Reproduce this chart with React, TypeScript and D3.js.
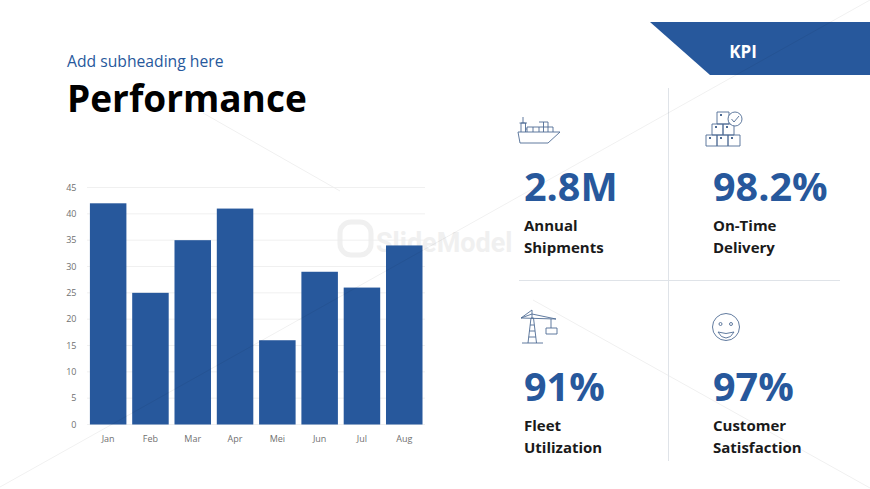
import { useEffect, useRef } from "react";
import * as d3 from "d3";

const months = ["Jan", "Feb", "Mar", "Apr", "Mei", "Jun", "Jul", "Aug"];
const values = [42, 25, 35, 41, 16, 29, 26, 34];
const yTicks = [0, 5, 10, 15, 20, 25, 30, 35, 40, 45];

const kpiValues = ["2.8M", "98.2%", "91%", "97%"];
const kpiLine1 = ["Annual", "On-Time", "Fleet", "Customer"];
const kpiLine2 = ["Shipments", "Delivery", "Utilization", "Satisfaction"];

const blue = "#27589c";
const iconColor = "#4f6c94";
const font = "'Open Sans', sans-serif";

export default function App() {
  const svgRef = useRef<SVGSVGElement>(null);

  useEffect(() => {
    if (!svgRef.current) return;
    const svg = d3.select(svgRef.current);
    svg.selectAll("*").remove();

    // Faint background lines from the slide template
    const bg = svg.append("g").attr("stroke", "#f0f0f0").attr("fill", "none");
    bg.append("path").attr("d", "M203 113L340 191");
    bg.append("path").attr("d", "M533 300L870 488");

    // Watermark
    svg.append("rect").attr("x", 340).attr("y", 222).attr("width", 31).attr("height", 33).attr("rx", 11)
      .attr("fill", "none").attr("stroke", "#f0f0f0").attr("stroke-width", 5);
    svg.append("text").attr("x", 376).attr("y", 252).text("SlideModel")
      .attr("font-family", "Roboto, sans-serif").attr("font-size", 27).attr("font-weight", 700).attr("fill", "#f0f0f0");

    // Heading
    svg.append("text").attr("x", 67).attr("y", 67).text("Add subheading here")
      .attr("font-family", font).attr("font-size", 15.7).attr("fill", blue);
    svg.append("text").attr("x", 67).attr("y", 112).text("Performance")
      .attr("font-family", font).attr("font-size", 37).attr("font-weight", 700).attr("fill", "#000");

    // KPI tab
    svg.append("path").attr("d", "M650 22H870V75H710Z").attr("fill", blue);
    svg.append("text").attr("x", 743).attr("y", 58).attr("text-anchor", "middle").text("KPI")
      .attr("font-family", font).attr("font-size", 17).attr("font-weight", 700).attr("fill", "#fff");

    // Bar chart
    const x = d3.scaleBand<string>().domain(months).range([87, 425.4]).paddingInner(0.137).paddingOuter(0.0685);
    const y = d3.scaleLinear().domain([0, 45]).range([424.5, 187.5]);

    const grid = svg.append("g");
    grid.selectAll("line").data(yTicks).enter().append("line")
      .attr("x1", 87).attr("x2", 425).attr("y1", (d) => y(d)).attr("y2", (d) => y(d))
      .attr("stroke", "#ececec").attr("stroke-width", 0.8);

    svg.append("g").selectAll("rect").data(values).enter().append("rect")
      .attr("x", (d, i) => x(months[i]) as number)
      .attr("y", (d) => y(d))
      .attr("width", x.bandwidth())
      .attr("height", (d) => y(0) - y(d))
      .attr("fill", blue);

    svg.append("g").selectAll("text").data(yTicks).enter().append("text")
      .attr("x", 76.5).attr("y", (d) => y(d)).attr("dy", "0.35em").attr("text-anchor", "end")
      .text((d) => d)
      .attr("font-family", font).attr("font-size", 9).attr("fill", "#707070");

    svg.append("g").selectAll("text").data(months).enter().append("text")
      .attr("x", (d) => (x(d) as number) + x.bandwidth() / 2).attr("y", 442).attr("text-anchor", "middle")
      .text((d) => d)
      .attr("font-family", font).attr("font-size", 9).attr("fill", "#707070");

    // KPI dividers
    svg.append("line").attr("x1", 668.5).attr("x2", 668.5).attr("y1", 88).attr("y2", 461).attr("stroke", "#dfe3e8");
    svg.append("line").attr("x1", 519).attr("x2", 840).attr("y1", 280.5).attr("y2", 280.5).attr("stroke", "#dfe3e8");

    // KPI blocks
    const colX = [524, 713];
    const rowY = [201, 401];
    kpiValues.forEach((v, i) => {
      const cx = colX[i % 2];
      const ry = rowY[Math.floor(i / 2)];
      svg.append("text").attr("x", cx).attr("y", ry).text(v)
        .attr("font-family", font).attr("font-size", 39.5).attr("font-weight", 700).attr("fill", blue);
      svg.append("text").attr("x", cx).attr("y", ry + 30).text(kpiLine1[i])
        .attr("font-family", font).attr("font-size", 15).attr("font-weight", 700).attr("fill", "#1a1a1a");
      svg.append("text").attr("x", cx).attr("y", ry + 52).text(kpiLine2[i])
        .attr("font-family", font).attr("font-size", 15).attr("font-weight", 700).attr("fill", "#1a1a1a");
    });

    // Icons
    const icons = svg.append("g").attr("fill", "none").attr("stroke", iconColor).attr("stroke-width", 0.9);
    // ship
    icons.append("path").attr("d", "M518 132H560L548 143H520Z M521 132V123H525.5V132 M519.5 123H527 M523 123V117 M525.5 129H527 M527 132V127H553V132 M533 127V132 M539 122H548V132 M539 127V132 M543.5 122V132");
    // boxes with check
    icons.append("path").attr("d", "M706 135H717V146H706Z M717 135H728V146H717Z M728 135H740V146H728Z M712 124H723V135H712Z M723 124H734V135H723Z M717 112H729V124H717Z");
    icons.append("path").attr("fill", iconColor).attr("stroke", "none")
      .attr("d", "M709 137h2v2h-2Z M720 137h2v2h-2Z M731 137h2v2h-2Z M715 126h2v2h-2Z M726 126h2v2h-2Z M720 114h2v2h-2Z");
    icons.append("circle").attr("cx", 735).attr("cy", 119).attr("r", 7).attr("fill", "#fff");
    icons.append("path").attr("d", "M731.5 119L734 122L739 116");
    // crane
    icons.append("path").attr("d", "M522 343H543 M528 343L531 318H533.5L536.5 343 M528.7 337H535.8 M529.4 331H535 M530.1 325H534.2 M521 318L532 314L556 319Z M532 310V318 M532 310L521 318 M551 319V328 M546 328H557V334H546Z");
    // smiley
    icons.append("circle").attr("cx", 726).attr("cy", 327).attr("r", 13.5);
    icons.append("circle").attr("cx", 720.5).attr("cy", 324).attr("r", 1.5);
    icons.append("circle").attr("cx", 731).attr("cy", 324).attr("r", 1.5);
    icons.append("path").attr("d", "M718 332Q726 335 734 332Q731 338 726 338Q721 338 718 332Z");

    // Long template line runs over everything very faintly
    svg.append("path").attr("d", "M0 487L870 0").attr("fill", "none").attr("stroke", "#000").attr("stroke-opacity", 0.06);
  }, []);

  return (
    <svg
      ref={svgRef}
      width={870}
      height={489}
      style={{ position: "fixed", left: 0, top: 0, background: "#fff" }}
    ></svg>
  );
}
